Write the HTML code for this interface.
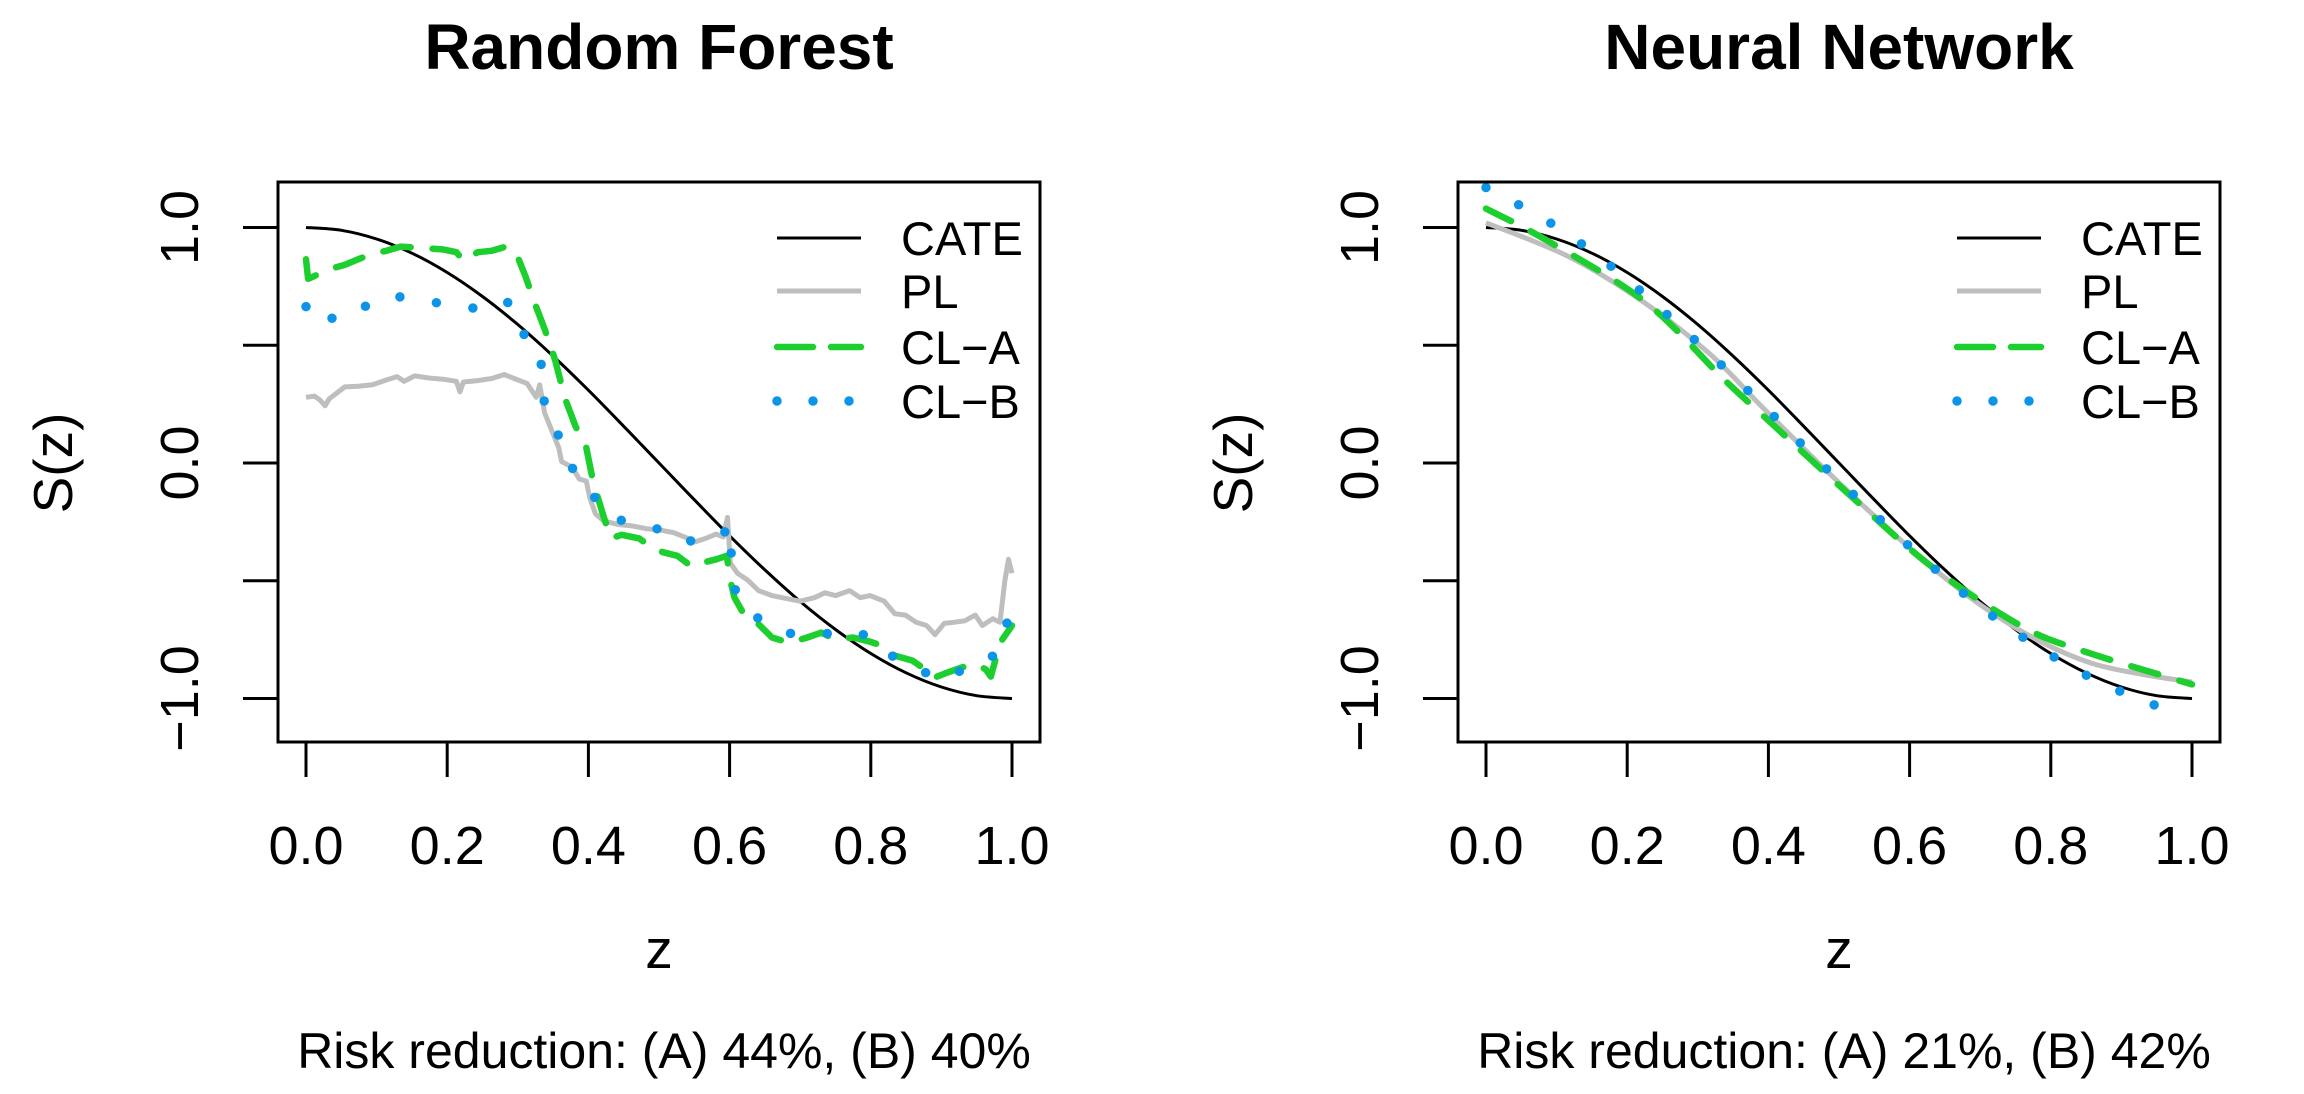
<!DOCTYPE html>
<html><head><meta charset="utf-8"><style>
html,body{margin:0;padding:0;background:#fff;}
svg{display:block;font-family:"Liberation Sans",Arial,sans-serif;}
</style></head><body>
<svg id="fig" width="2304" height="1094" viewBox="0 0 2304 1094" xmlns="http://www.w3.org/2000/svg"></svg>
<script>
// ---- data ----
const xTicks = [0, 0.2, 0.4, 0.6, 0.8, 1.0];
const xTickLabels = ["0.0", "0.2", "0.4", "0.6", "0.8", "1.0"];
const yTicks = [-1, -0.5, 0, 0.5, 1];
const yTickLabels = ["\u22121.0", "", "0.0", "", "1.0"];
const panelTitles = ["Random Forest", "Neural Network"];
const riskTexts = ["Risk reduction: (A) 44%, (B) 40%", "Risk reduction: (A) 21%, (B) 42%"];
const legendLabels = ["CATE", "PL", "CL\u2212A", "CL\u2212B"];

const cateZ = [0,0.05,0.1,0.15,0.2,0.25,0.3,0.35,0.4,0.45,0.5,0.55,0.6,0.65,0.7,0.75,0.8,0.85,0.9,0.95,1];
const cateV = [1,0.988,0.951,0.891,0.809,0.707,0.588,0.454,0.309,0.156,0,-0.156,-0.309,-0.454,-0.588,-0.707,-0.809,-0.891,-0.951,-0.988,-1];

// Random forest panel
const rfPlZ = [0,.012,.020,.027,.033,.055,.074,.094,.114,.129,.139,.154,.174,.194,.213,.218,.223,.243,.263,.281,.293,.313,.326,.331,.338,.348,.358,.362,.377,.387,.397,.402,.410,.422,.442,.462,.482,.501,.521,.536,.551,.566,.581,.591,.597,.601,.611,.626,.641,.660,.680,.700,.720,.735,.750,.770,.785,.799,.819,.834,.849,.864,.879,.891,.904,.919,.933,.948,.958,.973,.983,.990,.995,1.0];
const rfPlV = [.279,.284,.267,.243,.273,.323,.326,.332,.353,.367,.347,.370,.361,.356,.347,.302,.344,.350,.359,.376,.361,.338,.279,.332,.213,.139,.065,.006,-.018,-.068,-.077,-.148,-.216,-.246,-.261,-.267,-.279,-.284,-.296,-.314,-.335,-.320,-.302,-.314,-.231,-.424,-.468,-.498,-.542,-.563,-.575,-.587,-.572,-.551,-.563,-.542,-.572,-.563,-.587,-.640,-.646,-.676,-.690,-.729,-.681,-.676,-.670,-.646,-.690,-.661,-.676,-.498,-.409,-.468];
const rfAZ = [0,.003,.010,.030,.055,.074,.094,.114,.134,.164,.194,.213,.223,.243,.263,.283,.298,.311,.323,.338,.353,.367,.382,.397,.407,.422,.432,.447,.472,.492,.506,.526,.546,.561,.581,.596,.601,.607,.621,.641,.660,.685,.710,.730,.750,.775,.799,.819,.834,.859,.877,.889,.909,.929,.948,.963,.970,.983,1.0];
const rfAV = [.865,.782,.791,.821,.841,.865,.889,.901,.919,.913,.907,.895,.859,.895,.901,.919,.889,.791,.687,.569,.436,.273,.154,.065,-.083,-.231,-.320,-.305,-.320,-.364,-.379,-.394,-.439,-.424,-.409,-.394,-.498,-.572,-.646,-.684,-.741,-.764,-.741,-.720,-.750,-.741,-.759,-.779,-.818,-.839,-.877,-.913,-.889,-.868,-.853,-.877,-.907,-.764,-.690];
const rfBZ = [0,.015,.027,.043,.057,.079,.099,.114,.126,.149,.169,.189,.209,.225,.240,.263,.281,.295,.305,.313,.323,.333,.335,.345,.353,.358,.363,.374,.384,.397,.407,.412,.427,.442,.462,.482,.501,.516,.536,.554,.576,.591,.599,.603,.609,.631,.646,.662,.680,.698,.732,.750,.770,.790,.804,.827,.856,.874,.889,.914,.934,.946,.963,.978,.990,.995,1.0];
const rfBV = [.664,.628,.584,.634,.658,.664,.670,.693,.711,.693,.687,.679,.670,.658,.658,.676,.693,.658,.607,.480,.444,.427,.279,.213,.169,.110,.041,-.009,-.047,-.083,-.127,-.178,-.216,-.240,-.255,-.261,-.284,-.320,-.326,-.335,-.320,-.305,-.261,-.409,-.563,-.631,-.676,-.705,-.720,-.729,-.729,-.714,-.711,-.729,-.747,-.815,-.853,-.883,-.913,-.907,-.868,-.847,-.839,-.809,-.705,-.661,-.720];

// Neural network panel
const nnPlZ = [0,0.114,0.215,0.316,0.393,0.471,0.548,0.625,0.702,0.78,0.858,0.935,1];
const nnPlV = [1.02,0.881,0.70,0.466,0.232,0.0,-0.219,-0.426,-0.606,-0.75,-0.85,-0.90,-0.93];
const nnAZ = [0,0.087,0.226,0.336,0.393,0.513,0.633,0.757,0.842,1];
const nnAV = [1.08,0.944,0.683,0.358,0.20,-0.13,-0.444,-0.69,-0.795,-0.94];
const nnBZ = [0,0.091,0.174,0.251,0.326,0.399,0.471,0.544,0.62,0.698,0.781,0.869,0.964];
const nnBV = [1.17,1.02,0.843,0.645,0.437,0.225,0.008,-0.20,-0.408,-0.605,-0.78,-0.93,-1.048];

const NS = "http://www.w3.org/2000/svg";
const svg = document.getElementById("fig");
function mk(tag, attrs, parent) {
  const e = document.createElementNS(NS, tag);
  for (const k in attrs) e.setAttribute(k, attrs[k]);
  (parent || svg).appendChild(e);
  return e;
}
const styles = {
  cate: {stroke:"#000", "stroke-width":3, fill:"none"},
  pl: {stroke:"#bebebe", "stroke-width":5, fill:"none", "stroke-linejoin":"round"},
  a: {stroke:"#1ccf2e", "stroke-width":6.5, fill:"none", "stroke-dasharray":"28 22", "stroke-linecap":"round", "stroke-linejoin":"round"},
  b: {stroke:"#0c95e8", "stroke-width":9.5, fill:"none", "stroke-dasharray":"0 37", "stroke-linecap":"round"}
};

function drawPanel(p, offset, series) {
  const L = 278 + offset, R = 1040 + offset, T = 182, B = 742;
  const x0 = 306 + offset, x1 = 1012 + offset;
  const X = z => x0 + (x1 - x0) * z;
  const Y = v => 463 - 235.5 * v;
  const g = mk("g", {});
  
  

  const title = mk("text", {x:(L+R)/2, y:69, "text-anchor":"middle", "font-size":64, "font-weight":"bold"}, g);
  title.textContent = panelTitles[p];
  
  

  function pathD(zs, vs, sm) {
    const pts = zs.map((z,i)=>[X(z), Y(vs[i])]);
    if (!sm) return "M" + pts.map(q=>q[0].toFixed(1)+","+q[1].toFixed(1)).join(" L");
    let d = "M" + pts[0][0] + "," + pts[0][1];
    for (let i=0;i<pts.length-1;i++){
      const p0 = pts[i-1]||pts[i], p1 = pts[i], p2 = pts[i+1], p3 = pts[i+2]||p2;
      const c1 = [p1[0]+(p2[0]-p0[0])/6, p1[1]+(p2[1]-p0[1])/6];
      const c2 = [p2[0]-(p3[0]-p1[0])/6, p2[1]-(p3[1]-p1[1])/6];
      d += " C"+c1[0].toFixed(1)+","+c1[1].toFixed(1)+" "+c2[0].toFixed(1)+","+c2[1].toFixed(1)+" "+p2[0].toFixed(1)+","+p2[1].toFixed(1);
    }
    return d;
  }
  const cl = mk("clipPath", {id:"clip"+p}, g);
  mk("rect", {x:L, y:T, width:R-L, height:B-T}, cl);
  const sg = mk("g", {"clip-path":"url(#clip"+p+")"}, g);
  series.forEach(s => {
    const path = mk("path", Object.assign({d: pathD(s.z, s.v, s.smooth)}, styles[s.key]), sg);
    
    
  });

  const box = mk("rect", {x:L, y:T, width:R-L, height:B-T, fill:"none", stroke:"#000", "stroke-width":3}, g);
  
  

  const xa = mk("g", {}, g);
  
  
  mk("line", {x1:X(xTicks[0]), x2:X(xTicks[xTicks.length-1]), y1:B, y2:B, stroke:"#000","stroke-width":3}, xa);
  xTicks.forEach((t,i) => {
    const tk = mk("line", {x1:X(t), x2:X(t), y1:B, y2:B+35, stroke:"#000","stroke-width":3}, xa);
    
    
    const lb = mk("text", {x:X(t), y:864, "text-anchor":"middle", "font-size":54}, xa);
    lb.textContent = xTickLabels[i];
    
    
  });
  const xt = mk("text", {x:(L+R)/2, y:968, "text-anchor":"middle", "font-size":55}, g);
  xt.textContent = "z";
  
  

  const ya = mk("g", {}, g);
  
  
  yTicks.forEach((t,i) => {
    const tk = mk("line", {x1:L-35, x2:L, y1:Y(t), y2:Y(t), stroke:"#000","stroke-width":3}, ya);
    
    
    if (yTickLabels[i]) {
      const lx = 198 + offset, ly = Y(t);
      const lb = mk("text", {x:lx, y:ly, "text-anchor":"middle", "font-size":54, transform:"rotate(-90 "+lx+" "+ly+")"}, ya);
      lb.textContent = yTickLabels[i];
      
      
    }
  });
  const yx = 72 + offset, yy = 463;
  const yt = mk("text", {x:yx, y:yy, "text-anchor":"middle", "font-size":55, transform:"rotate(-90 "+yx+" "+yy+")"}, g);
  yt.textContent = "S(z)";
  
  

  const lg = mk("g", {}, g);
  
  
  const keys = ["cate","pl","a","b"];
  const rows = [238, 291, 347, 401];
  keys.forEach((k,i) => {
    const e = mk("g", {}, lg);
    
    
    const a = Object.assign({}, styles[k]);
    if (k === "a") a["stroke-dasharray"] = "36 18";
    if (k === "b") a["stroke-dasharray"] = "0 36";
    mk("line", Object.assign({x1:777+offset, x2:(k==="b"?850:861)+offset, y1:rows[i], y2:rows[i]}, a), e);
    const t = mk("text", {x:901+offset, y:rows[i]+17, "font-size":47}, e);
    t.textContent = legendLabels[i];
  });

  const rt = mk("text", {x:(L+R)/2 + 5, y:1068, "text-anchor":"middle", "font-size":50}, g);
  rt.textContent = riskTexts[p];
  
  
}

drawPanel(0, 0, [
  {key:"cate", name:"cate", z:cateZ, v:cateV, smooth:true},
  {key:"pl", name:"pl", z:rfPlZ, v:rfPlV, smooth:false},
  {key:"a", name:"cl-a", z:rfAZ, v:rfAV, smooth:false},
  {key:"b", name:"cl-b", z:rfBZ, v:rfBV, smooth:false}
]);
drawPanel(1, 1180, [
  {key:"cate", name:"cate", z:cateZ, v:cateV, smooth:true},
  {key:"pl", name:"pl", z:nnPlZ, v:nnPlV, smooth:true},
  {key:"a", name:"cl-a", z:nnAZ, v:nnAV, smooth:true},
  {key:"b", name:"cl-b", z:nnBZ, v:nnBV, smooth:true}
]);
</script>
</body></html>
